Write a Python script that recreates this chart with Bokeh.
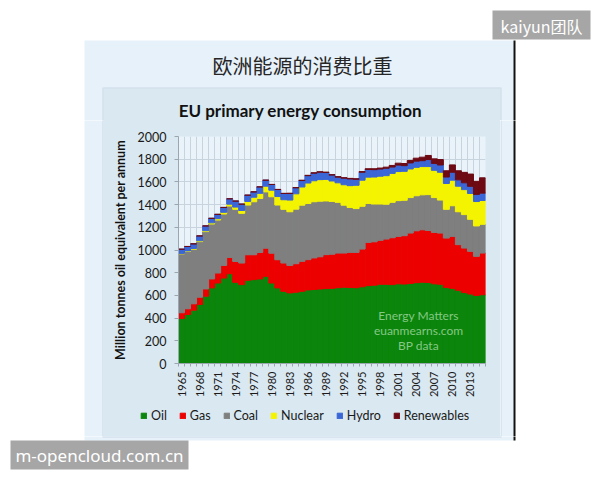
import math

from bokeh.embed import file_html
from bokeh.layouts import column, row
from bokeh.models import (ColumnDataSource, FixedTicker, Label, Legend,
                          LegendItem, Range1d)
from bokeh.plotting import figure
from bokeh.resources import INLINE

# EU primary energy consumption, million tonnes oil equivalent, 1965-2015
years = list(range(1965, 2016))
oil = [397, 432, 470, 520, 593, 666, 709, 753, 791, 715,
       695, 733, 739, 745, 768, 709, 666, 636, 622, 628,
       636, 648, 652, 656, 660, 662, 668, 672, 670, 668,
       676, 686, 690, 698, 698, 695, 702, 700, 705, 712,
       716, 714, 702, 698, 670, 662, 645, 625, 612, 600, 606]
gas = [50, 50, 56, 64, 64, 79, 88, 111, 143, 184,
       190, 225, 219, 233, 248, 263, 248, 249, 242, 251,
       264, 267, 278, 284, 299, 301, 305, 301, 309, 311,
       332, 381, 382, 387, 398, 413, 418, 426, 444, 457,
       462, 458, 453, 451, 435, 458, 402, 392, 376, 344, 367]
coal = [519, 505, 481, 490, 505, 484, 467, 453, 453, 459,
        438, 438, 467, 476, 496, 497, 482, 473, 473, 481,
        495, 495, 495, 490, 473, 465, 447, 422, 396, 386,
        377, 343, 333, 320, 307, 312, 315, 312, 313, 309,
        308, 316, 307, 291, 253, 270, 290, 295, 282, 268, 253]
nuclear = [4, 5, 6, 7, 8, 10, 12, 15, 17, 20,
           25, 32, 40, 45, 50, 58, 75, 85, 103, 135,
           160, 180, 185, 190, 190, 180, 172, 180, 192, 205,
           230, 232, 238, 245, 252, 255, 256, 255, 252, 250,
           249, 247, 240, 245, 228, 225, 225, 220, 228, 215, 210]
hydro = [37, 39, 41, 43, 42, 40, 38, 43, 47, 53,
         56, 55, 47, 57, 53, 50, 62, 55, 58, 53,
         57, 65, 67, 66, 61, 52, 50, 58, 59, 53,
         70, 67, 65, 63, 65, 56, 57, 50, 53, 55,
         52, 62, 61, 64, 57, 70, 56, 60, 63, 63, 65]
renewables = [0, 0, 0, 0, 0, 0, 0, 0, 0, 0,
              0, 0, 0, 0, 0, 1, 1, 1, 2, 2,
              3, 3, 3, 3, 3, 4, 4, 4, 5, 5,
              6, 7, 8, 9, 10, 14, 17, 19, 22, 26,
              31, 36, 40, 48, 55, 65, 80, 92, 108, 115, 135]

series_names = ["Oil", "Gas", "Coal", "Nuclear", "Hydro", "Renewables"]
series_colors = ["#0b850b", "#ec0000", "#7f7f7f", "#f4f400", "#3b66d6", "#6d0a14"]
x_tick_years = list(range(1965, 2014, 3))
y_ticks = list(range(0, 2001, 200))

WHITE = "#ffffff"
OUTER = "#e6f1fa"      # light card behind the chart
INNER = "#d9e8f1"      # chart panel
EDGE = "#c9dae6"       # chart panel edge
BADGE = "#a6a6a6"

# page is built from tiles: top band, middle row, bottom band
TOP_H, MID_H, BOT_H = 120, 316, 44
LEFT_W, CHART_W, RIGHT_W = 103, 397, 100
CHART_H, LEG_H = 280, 36

# plot frame in page pixels
FL, FR, FT, FB = 178, 485, 136, 364
X0, X1 = years[0] - 0.5, years[-1] + 0.5
Y0, Y1 = 0, 2000


def X(px):
    return X0 + (px - FL) * (X1 - X0) / (FR - FL)


def Y(py):
    return Y0 + (FB - py) * (Y1 - Y0) / (FB - FT)


def tile(w, h, bg, edge_fill, host=None):
    kw = {"styles": {"background-color": host}} if host else {}
    f = figure(width=w, height=h, x_range=Range1d(0, w), y_range=Range1d(h, 0),
               x_axis_type=None, y_axis_type=None, min_border=0,
               output_backend="svg", toolbar_location=None, **kw)
    f.background_fill_color = bg
    f.border_fill_color = edge_fill
    f.outline_line_color = None
    f.grid.visible = False
    return f


def rects(f, boxes):
    f.quad(left=[b[0] for b in boxes], right=[b[1] for b in boxes],
           top=[b[2] for b in boxes], bottom=[b[3] for b in boxes],
           fill_color=[b[4] for b in boxes], line_color=None)


def text(f, x, y, s, size, font, color, style="normal"):
    f.add_layout(Label(x=x, y=y, text=s, text_font=font, text_font_size=f"{size}px",
                       text_color=color, text_font_style=style,
                       text_align="center", text_baseline="middle"))


# top band: card header, titles, badge
top = tile(600, TOP_H, WHITE, WHITE)
rects(top, [(84, 513, 40, TOP_H + 2, OUTER),
            (103, 500, 88, TOP_H + 2, INNER),
            (103, 500, 87, 88, EDGE),
            (102, 103, 87, TOP_H + 2, EDGE),
            (500, 501, 87, TOP_H + 2, EDGE),
            (513, 515, 40, TOP_H + 2, "#111111"),
            (492, 590, 10, 39, BADGE)])
text(top, 541, 25, "kaiyun团队", 16, "Noto Sans CJK SC", WHITE)
text(top, 302, 65, "欧洲能源的消费比重", 20, "Noto Sans CJK SC", "#262626")
text(top, 300, 110, "EU primary energy consumption", 17, "Lato", "#111111", "bold")

# side strips of the middle row
left = tile(LEFT_W, MID_H, WHITE, WHITE)
rects(left, [(84, 103, -2, MID_H + 2, OUTER), (102, 103, -2, MID_H + 2, EDGE)])
right = tile(RIGHT_W, MID_H, WHITE, WHITE)
rects(right, [(-2, 13, -2, MID_H + 2, OUTER), (0, 1, -2, MID_H + 2, EDGE),
              (13, 15, -2, MID_H + 2, "#111111")])

# the chart itself
chart = figure(width=CHART_W, height=CHART_H,
               x_range=Range1d(X0, X1), y_range=Range1d(Y0, Y1),
               output_backend="svg", toolbar_location=None,
               styles={"background-color": INNER},
               min_border_left=FL - LEFT_W, min_border_right=LEFT_W + CHART_W - FR,
               min_border_top=FT - TOP_H, min_border_bottom=TOP_H + CHART_H - FB)
chart.background_fill_color = "#eaf3f9"
chart.border_fill_color = INNER
chart.outline_line_color = None

xa = chart.xaxis[0]
xa.ticker = FixedTicker(ticks=x_tick_years, minor_ticks=[y - 0.5 for y in years] + [X1])
xa.major_label_orientation = math.pi / 2
xa.major_tick_out = 0
xa.major_tick_in = 0
xa.minor_tick_out = 3
xa.minor_tick_in = 0
xa.minor_tick_line_color = "#9aa7b0"
xa.axis_line_color = "#9aa7b0"
xa.major_label_standoff = 5
xa.major_label_text_font = "Lato"
xa.major_label_text_font_size = "11px"
xa.major_label_text_color = "#1a1a1a"

ya = chart.yaxis[0]
ya.ticker = FixedTicker(ticks=y_ticks)
ya.major_tick_out = 4
ya.major_tick_in = 0
ya.major_tick_line_color = "#9aa7b0"
ya.axis_line_color = "#9aa7b0"
ya.major_label_standoff = 8
ya.major_label_text_font = "Lato"
ya.major_label_text_font_size = "12.5px"
ya.major_label_text_color = "#1a1a1a"
ya.axis_label = "Million tonnes oil equivalent per annum"
ya.axis_label_text_font = "Lato"
ya.axis_label_text_font_size = "12.5px"
ya.axis_label_text_font_style = "bold"
ya.axis_label_text_color = "#111111"
ya.axis_label_standoff = 7

chart.xgrid.ticker = FixedTicker(ticks=[y - 0.5 for y in years] + [X1])
chart.xgrid.grid_line_color = "#c7d4de"
chart.ygrid.grid_line_color = "#c7d4de"

source = ColumnDataSource(dict(year=years, Oil=oil, Gas=gas, Coal=coal,
                               Nuclear=nuclear, Hydro=hydro, Renewables=renewables))
chart.vbar_stack(series_names, x="year", width=1.0, color=series_colors,
                 line_width=1.0, source=source)

for py, s in [(316, "Energy Matters"), (331, "euanmearns.com"), (346, "BP data")]:
    chart.add_layout(Label(x=X(418), y=Y(py), text=s, text_font="Lato",
                           text_font_size="12px", text_color="#86c886",
                           text_align="center", text_baseline="middle"))

# legend strip under the chart; swatches come from zero-size proxy glyphs
leg = tile(CHART_W, LEG_H, INNER, INNER, host=INNER)
swatches = [leg.vbar(x=[0], top=[0], bottom=[0], width=0, color=c) for c in series_colors]
legend = Legend(items=[LegendItem(label=n, renderers=[r]) for n, r in zip(series_names, swatches)],
                orientation="horizontal", location=(37, 13),
                background_fill_alpha=0, border_line_color=None,
                padding=0, margin=0, spacing=12,
                glyph_width=7, glyph_height=7, label_standoff=4,
                label_width=0, label_height=14,
                label_text_font="Lato", label_text_font_size="12.5px",
                label_text_color="#1a1a1a")
leg.add_layout(legend)

# bottom band: card foot and badge
bottom = tile(600, BOT_H, WHITE, WHITE)
rects(bottom, [(84, 513, -2, 4, OUTER),
               (102, 501, -2, 1, EDGE),
               (513, 515, -2, 4, "#111111"),
               (10, 188, 4, 33, BADGE)])
text(bottom, 99, 19, "m-opencloud.com.cn", 17, "Noto Sans", WHITE)

# separate wrappers keep each plot's borders independent of its neighbours
p = column(top, row(left, column(column(chart), column(leg)), right), bottom)

open("out.html", "w").write(file_html(p, INLINE))
